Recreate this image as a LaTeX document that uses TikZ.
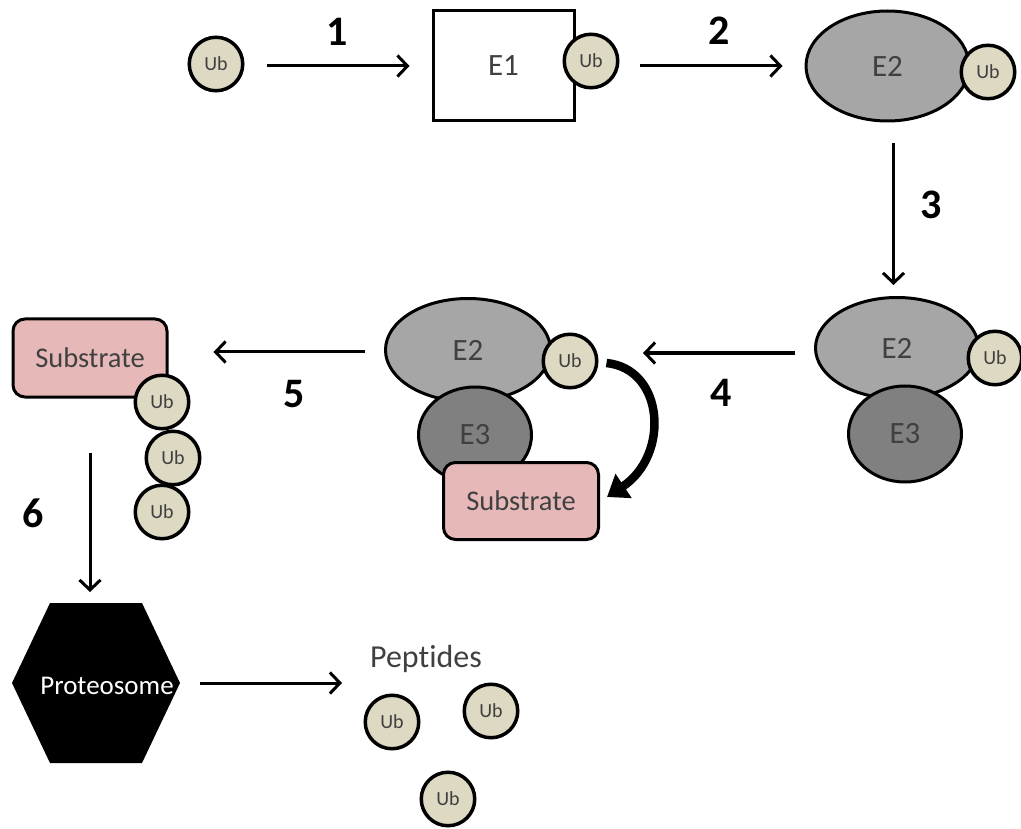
\documentclass[tikz,border=0pt]{standalone}
\usepackage{fontspec}
\setmainfont[Ligatures={NoCommon}]{Carlito}
\usetikzlibrary{shapes.geometric,arrows.meta}
\definecolor{ubfill}{HTML}{DDD9C3}
\definecolor{etwo}{HTML}{A6A6A6}
\definecolor{ethree}{HTML}{808080}
\definecolor{subfill}{HTML}{E6B9B8}
\definecolor{txt}{HTML}{404040}
\begin{document}
\begin{tikzpicture}[x=1pt,y=-1pt,
  ub/.style={circle,draw=black,line width=3.5pt,fill=ubfill,minimum size=53.5pt,inner sep=0pt,
    font=\fontsize{20}{21}\selectfont,text=txt},
  enzlabel/.style={font=\fontsize{31}{32}\selectfont,text=txt},
  eonebox/.style={rectangle,draw=black,line width=3pt,fill=white,minimum width=141pt,minimum height=110pt,inner sep=0pt,enzlabel},
  etwoshape/.style={ellipse,draw=black,line width=3pt,fill=etwo,inner sep=0pt,enzlabel},
  ethreeshape/.style={ellipse,draw=black,line width=3pt,fill=ethree,inner sep=0pt,minimum width=113pt,minimum height=96pt,enzlabel},
  subbox/.style={rectangle,rounded corners=12pt,draw=black,line width=3pt,fill=subfill,inner sep=0pt,
    minimum width=155pt,minimum height=77pt,font=\fontsize{28.5}{30}\selectfont,text=txt},
  numlabel/.style={font=\fontsize{42}{44}\selectfont\bfseries,text=black},
  arr/.style={line width=3pt,-{Straight Barb[length=10pt,width=21pt]}},
  curvy/.style={line width=8.5pt,-{Triangle[length=20pt,width=28pt]}}
]
\useasboundingbox (0,0) rectangle (1021,829);

% top row
\node[ub] (ub0) at (216,64) {Ub};
\node[eonebox] (e1) at (503.5,66) {E1};
\node[ub] (ub1) at (591,61) {Ub};
\node[etwoshape,minimum width=163pt,minimum height=110pt] (e2a) at (887.5,66) {E2};
\node[ub] (ub2) at (988,72) {Ub};

% right group
\node[etwoshape,minimum width=163pt,minimum height=101pt] (e2b) at (897,348) {E2};
\node[ethreeshape] (e3b) at (905,434) {E3};
\node[ub] (ub3) at (995,358) {Ub};

% middle group
\node[etwoshape,minimum width=165pt,minimum height=103pt] (e2c) at (468,350) {E2};
\node[ub] (ub4) at (570,361) {Ub};
\node[ethreeshape] (e3c) at (475,435) {E3};
\node[subbox] (sub2) at (521,501) {Substrate};

% left group
\node[subbox,minimum width=154pt,minimum height=78pt] (sub1) at (90,358) {Substrate};
\node[ub] (us1) at (162,402) {Ub};
\node[ub] (us2) at (173,458) {Ub};
\node[ub] (us3) at (162,512) {Ub};

% proteosome
\fill[black] (50,603) -- (142,603) -- (180,683) -- (142,763) -- (50,763) -- (12,683) -- cycle;
\node[font=\fontsize{27}{28}\selectfont,text=white] (prot) at (107,686) {Proteosome};
\coordinate (protN) at (96,603);
\coordinate (protE) at (180,683);

% peptides
\node[font=\fontsize{32}{34}\selectfont,text=txt] (pep) at (426,659) {Peptides};
\node[ub] (pa) at (392,722) {Ub};
\node[ub] (pb) at (491,711) {Ub};
\node[ub] (pc) at (448,799) {Ub};

% arrows
\draw[arr,shorten <=22.5pt,shorten >=22pt] (ub0.east |- e1.west) -- (e1.west);
\draw[arr,shorten <=20.5pt,shorten >=22pt] (ub1.east |- e2a.west) -- (e2a.west);
\coordinate (c3) at ([xshift=6pt]e2a.south);
\draw[arr,shorten <=21pt,shorten >=11pt] (c3) -- (c3 |- e2b.north);
\coordinate (c4) at ([yshift=-5pt]e2b.west);
\draw[arr,shorten <=19pt,shorten >=44.5pt] (c4) -- (c4 -| ub4.east);
\coordinate (c5) at ([yshift=-2pt]e2c.west);
\draw[arr,shorten <=19pt,shorten >=45pt] (c5) -- (c5 -| sub1.east);
\draw[arr,shorten <=54pt,shorten >=11pt] (sub1.south) -- (sub1.south |- protN);
\draw[arr,shorten <=20pt,shorten >=21.5pt] (protE) -- (protE -| pa.west);
\draw[curvy] ([xshift=8pt,yshift=-2pt]ub4.east) .. controls +(58,6) and +(63,-42) .. ([xshift=7pt,yshift=4pt]sub2.east);

% step numbers
\node[numlabel] (n1) at (337,32) {1};
\node[numlabel] (n2) at (719,31) {2};
\node[numlabel] (n3) at (931,205) {3};
\node[numlabel] (n4) at (721,393) {4};
\node[numlabel] (n5) at (294,394) {5};
\node[numlabel] (n6) at (33,513) {6};
\end{tikzpicture}
\end{document}
